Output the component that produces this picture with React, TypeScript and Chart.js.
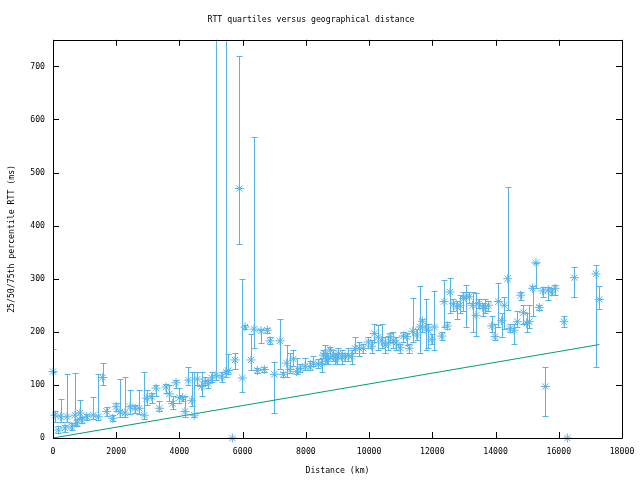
import { useEffect, useRef } from "react";
import { Chart, registerables } from "chart.js";

Chart.register(...registerables);

// Distance (km) of each measured group
const distanceKm = [
  0, 63, 170, 243, 380, 445, 590, 696, 750, 854, 908, 1066, 1275, 1434, 1572, 1698, 1888, 1993,
  2120, 2278, 2436, 2594, 2730, 2888, 2964, 3122, 3258, 3364, 3575, 3680, 3786, 3891, 3997, 4102,
  4176, 4282, 4387, 4471, 4566, 4703, 4808, 4914, 5019, 5157, 5335, 5473, 5546, 5673, 5757, 5895,
  5989, 6074, 6264, 6358, 6464, 6580, 6685, 6780, 6865, 7001, 7181, 7286, 7392, 7497, 7603, 7708,
  7813, 7972, 8130, 8235, 8393, 8498, 8551, 8604, 8656, 8709, 8762, 8867, 8920, 8972, 9025, 9130,
  9237, 9342, 9447, 9554, 9690, 9817, 9975, 10081, 10164, 10291, 10397, 10503, 10607, 10661, 10766,
  10850, 10977, 11082, 11190, 11272, 11379, 11505, 11610, 11684, 11790, 11874, 11980, 12063, 12296,
  12369, 12474, 12559, 12664, 12771, 12875, 12981, 13066, 13171, 13276, 13382, 13466, 13592, 13666,
  13771, 13877, 13983, 14088, 14194, 14277, 14383, 14457, 14583, 14689, 14794, 14878, 14984, 15068,
  15174, 15278, 15384, 15491, 15575, 15669, 15775, 15881, 16165, 16270, 16492, 17178, 17283,
];
// Median (50th percentile) RTT, ms
const medianRtt = [
  125, 43, 15, 40, 19, 40, 21, 43, 28, 47, 34, 40, 43, 40, 114, 50, 37, 59,
  49, 47, 59, 56, 56, 43, 75, 78, 94, 56, 96, 83, 65, 104, 76, 76,
  50, 109, 71, 43, 111, 97, 106, 103, 113, 118, 115, 124, 127, 0, 147, 470,
  113, 209, 147, 205, 127, 202, 129, 203, 183, 120, 183, 120, 141, 129, 149, 125,
  131, 135, 134, 141, 139, 141, 156, 159, 149, 150, 166, 154, 153, 149, 159, 153,
  153, 155, 154, 169, 169, 169, 181, 173, 197, 190, 183, 175, 179, 191, 183,
  179, 170, 192, 191, 169, 201, 194, 209, 220, 209, 203, 186, 209, 192,
  257, 211, 275, 253, 247, 250, 263, 266, 266, 250, 231, 253, 247, 244,
  250, 211, 191, 257, 221, 250, 300, 206, 203, 219, 269, 236, 216, 219,
  282, 330, 246, 277, 97, 279, 275, 282, 219, 0, 302, 309, 261,
];
// 25th percentile RTT, ms
const q25Rtt = [
  125, 31, 10, 31, 12, 30, 15, 25, 22, 38, 28, 33, 36, 33, 100, 42, 32, 50,
  40, 40, 45, 48, 45, 35, 62, 65, 80, 50, 85, 70, 55, 95, 65, 70,
  40, 100, 60, 40, 100, 80, 100, 95, 105, 110, 105, 115, 120, 0, 130, 365,
  87, 205, 128, 169, 122, 179, 125, 198, 178, 47, 130, 115, 115, 122, 135, 120,
  125, 128, 128, 135, 132, 125, 150, 140, 140, 140, 150, 145, 140, 140, 150, 140,
  145, 145, 140, 160, 155, 160, 170, 160, 180, 165, 170, 160, 165, 180, 170,
  165, 160, 180, 175, 160, 180, 185, 160, 200, 165, 170, 178, 165, 185,
  210, 205, 235, 240, 225, 235, 240, 210, 255, 200, 192, 245, 230, 235,
  240, 200, 185, 210, 190, 205, 241, 200, 178, 210, 260, 215, 200, 208,
  230, 282, 242, 265, 41, 260, 270, 270, 210, 0, 265, 134, 243,
];
// 75th percentile RTT, ms
const q75Rtt = [
  167, 51, 22, 73, 25, 120, 28, 122, 35, 71, 40, 46, 78, 121, 141, 58, 44, 65,
  111, 115, 90, 62, 90, 125, 90, 85, 100, 70, 102, 100, 80, 110, 95, 80,
  80, 133, 125, 125, 125, 125, 115, 110, 125, 800, 125, 800, 158, 0, 160, 719,
  299, 213, 196, 567, 132, 205, 133, 207, 190, 144, 224, 125, 175, 160, 165, 150,
  140, 150, 145, 155, 148, 150, 165, 175, 160, 160, 172, 165, 160, 158, 170, 165,
  160, 170, 165, 190, 180, 178, 190, 185, 215, 212, 215, 190, 190, 198, 200,
  190, 178, 200, 198, 178, 263, 205, 286, 225, 261, 215, 195, 277, 200,
  297, 218, 301, 262, 258, 270, 275, 288, 275, 275, 273, 262, 255, 262,
  258, 230, 215, 292, 235, 265, 472, 215, 215, 240, 275, 250, 235, 250,
  287, 330, 250, 285, 134, 285, 282, 288, 230, 0, 322, 326, 287,
];
// Propagation lower bound (speed of light in fibre)
const boundKm = [0, 17283];
const boundRtt = [0, 176];

const xTicks = [0, 2000, 4000, 6000, 8000, 10000, 12000, 14000, 16000, 18000];
const yTicks = [0, 100, 200, 300, 400, 500, 600, 700];

const BLUE = "#56b4e9";
const GREEN = "#009e73";
const FONT = "'DejaVu Sans Mono', monospace";

const errorBars = {
  id: "errorBars",
  beforeDatasetsDraw(chart: any) {
    const { ctx, chartArea, scales } = chart;
    const xs = scales.x;
    const ys = scales.y;
    ctx.save();
    ctx.beginPath();
    ctx.rect(chartArea.left, chartArea.top, chartArea.right - chartArea.left, chartArea.bottom - chartArea.top);
    ctx.clip();
    ctx.strokeStyle = BLUE;
    ctx.lineWidth = 1;
    for (let i = 0; i < distanceKm.length; i++) {
      if (q25Rtt[i] === q75Rtt[i]) continue;
      const px = Math.round(xs.getPixelForValue(distanceKm[i])) + 0.5;
      const lo = Math.round(ys.getPixelForValue(q25Rtt[i])) + 0.5;
      const hi = Math.round(ys.getPixelForValue(q75Rtt[i])) + 0.5;
      ctx.beginPath();
      ctx.moveTo(px, lo);
      ctx.lineTo(px, hi);
      ctx.moveTo(px - 3, lo);
      ctx.lineTo(px + 3, lo);
      ctx.moveTo(px - 3, hi);
      ctx.lineTo(px + 3, hi);
      ctx.stroke();
    }
    ctx.restore();
  },
};

const frame = {
  id: "frame",
  afterDraw(chart: any) {
    const { ctx, chartArea, scales } = chart;
    const { left, right, top, bottom } = chartArea;
    ctx.save();
    ctx.strokeStyle = "#000";
    ctx.lineWidth = 1;
    ctx.beginPath();
    ctx.rect(Math.round(left) + 0.5, Math.round(top) + 0.5, Math.round(right - left), Math.round(bottom - top));
    ctx.stroke();
    ctx.beginPath();
    for (const v of xTicks) {
      const px = Math.round(scales.x.getPixelForValue(v)) + 0.5;
      ctx.moveTo(px, bottom);
      ctx.lineTo(px, bottom - 6);
      ctx.moveTo(px, top);
      ctx.lineTo(px, top + 6);
    }
    for (const v of yTicks) {
      const py = Math.round(scales.y.getPixelForValue(v)) + 0.5;
      ctx.moveTo(left, py);
      ctx.lineTo(left + 6, py);
      ctx.moveTo(right, py);
      ctx.lineTo(right - 6, py);
    }
    ctx.stroke();
    ctx.restore();
  },
};

export default function App() {
  const ref = useRef<HTMLCanvasElement | null>(null);
  useEffect(() => {
    if (!ref.current) return;
    const points = distanceKm.map((d, i) => ({ x: d, y: medianRtt[i] }));
    const bound = boundKm.map((d, i) => ({ x: d, y: boundRtt[i] }));
    const chart = new Chart(ref.current, {
      type: "scatter",
      data: {
        datasets: [
          {
            label: "median",
            data: points,
            pointStyle: "star",
            pointRadius: 4.5,
            borderColor: BLUE,
            backgroundColor: BLUE,
            borderWidth: 1,
            clip: false as any,
            order: 1,
          },
          {
            label: "bound",
            data: bound,
            showLine: true,
            pointRadius: 0,
            borderColor: GREEN,
            borderWidth: 1,
            order: 2,
          },
        ],
      },
      options: {
        animation: false,
        responsive: false,
        devicePixelRatio: 1,
        layout: { padding: { top: 0, right: 18, left: 0, bottom: 0 } },
        plugins: {
          legend: { display: false },
          tooltip: { enabled: false },
          title: {
            display: true,
            text: "RTT quartiles versus geographical distance",
            color: "#000",
            font: { family: FONT, size: 8.2, weight: "normal" },
            padding: { top: 15, bottom: 15 },
          },
        },
        scales: {
          x: {
            type: "linear",
            min: 0,
            max: 18000,
            afterFit: (s: any) => {
              s.height = 42;
              s.paddingLeft = 0;
              s.paddingRight = 0;
            },
            grid: { display: false, drawTicks: false },
            border: { display: false },
            ticks: {
              stepSize: 2000,
              maxRotation: 0,
              color: "#000",
              padding: 9,
              font: { family: FONT, size: 8.2 },
              callback: (v: any) => String(v),
            },
            title: {
              display: true,
              text: "Distance (km)",
              color: "#000",
              font: { family: FONT, size: 8.2 },
              padding: { top: 0, bottom: 4 },
            },
          },
          y: {
            type: "linear",
            min: 0,
            max: 750,
            afterFit: (s: any) => {
              s.width = 53;
              s.paddingTop = 0;
              s.paddingBottom = 0;
            },
            grid: { display: false, drawTicks: false },
            border: { display: false },
            ticks: {
              stepSize: 100,
              includeBounds: false,
              color: "#000",
              padding: 8,
              font: { family: FONT, size: 8.2 },
              callback: (v: any) => String(v),
            },
            title: {
              display: true,
              text: "25/50/75th percentile RTT (ms)",
              color: "#000",
              font: { family: FONT, size: 8.2 },
              padding: { top: 7, bottom: 0 },
            },
          },
        },
      },
      plugins: [errorBars, frame],
    });
    return () => chart.destroy();
  }, []);
  return (
    <div style={{ position: "fixed", left: 0, top: 0, width: 640, height: 480, background: "#fff" }}>
      <canvas ref={ref} width={640} height={480} style={{ width: 640, height: 480 }} />
    </div>
  );
}
